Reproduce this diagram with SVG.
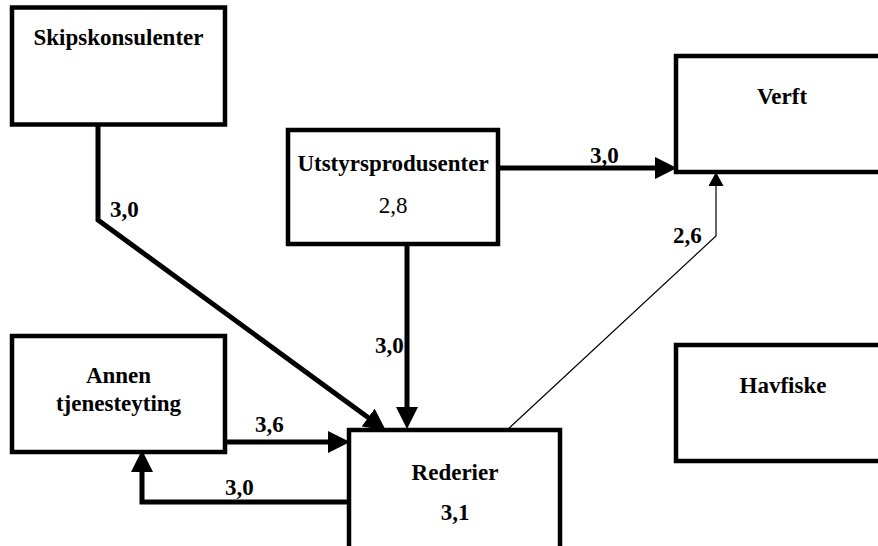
<svg xmlns="http://www.w3.org/2000/svg" width="878" height="546" viewBox="0 0 878 546">
<style>
.box{fill:#fff;stroke:#000;stroke-width:4.5}
text{font-family:'Liberation Serif','Times New Roman','DejaVu Serif',serif;font-size:23px;fill:#000}
.t{font-weight:bold}
.c{text-anchor:middle}
.thick{fill:none;stroke:#000;stroke-width:5}
.thin{fill:none;stroke:#000;stroke-width:1.2}
</style>
<defs>
<marker id="ah" markerUnits="userSpaceOnUse" markerWidth="22" markerHeight="22" viewBox="0 0 20 20" refX="10" refY="10" orient="auto">
<path d="M0,0 L20,10 L0,20 z" fill="#000"/>
</marker>
<marker id="ahs" markerUnits="userSpaceOnUse" markerWidth="15" markerHeight="15" viewBox="0 0 14 15" refX="14" refY="7.5" orient="auto">
<path d="M0,0 L14,7.5 L0,15 z" fill="#000"/>
</marker>
</defs>
<rect width="878" height="546" fill="#fff"/>
<g id="connectors">
<path class="thick" d="M98,125 L98,220 L377,424" marker-end="url(#ah)"/>
<path class="thick" d="M407,245 L407,418" marker-end="url(#ah)"/>
<path class="thick" d="M498,168 L666,168" marker-end="url(#ah)"/>
<path class="thick" d="M225,442 L339,442" marker-end="url(#ah)"/>
<path class="thick" d="M350,502 L142,502 L142,461" marker-end="url(#ah)"/>
<path class="thin" d="M507,430 L716,236 L716,172" marker-end="url(#ahs)"/>
<text class="t" x="110" y="217">3,0</text>
<text class="t" x="590" y="163">3,0</text>
<text class="t" x="673" y="243">2,6</text>
<text class="t" x="375" y="353">3,0</text>
<text class="t" x="255" y="432">3,6</text>
<text class="t" x="225" y="495">3,0</text>
</g>
<g id="skipskonsulenter">
<rect class="box" x="12" y="7.5" width="213" height="117"/>
<text class="t c" x="118.5" y="45">Skipskonsulenter</text>
</g>
<g id="utstyrsprodusenter">
<rect class="box" x="288" y="130" width="210" height="114"/>
<text class="t c" x="393" y="171">Utstyrsprodusenter</text>
<text class="c" x="393" y="213">2,8</text>
</g>
<g id="verft">
<rect class="box" x="676" y="56" width="214" height="116"/>
<text class="t c" x="782" y="104">Verft</text>
</g>
<g id="annen">
<rect class="box" x="12" y="336" width="213" height="116"/>
<text class="t c" x="118.5" y="383">Annen</text>
<text class="t c" x="118.5" y="411">tjenesteyting</text>
</g>
<g id="havfiske">
<rect class="box" x="676" y="345" width="214" height="116"/>
<text class="t c" x="783" y="393">Havfiske</text>
</g>
<g id="rederier">
<rect class="box" x="349" y="430" width="211" height="130"/>
<text class="t c" x="455" y="480">Rederier</text>
<text class="t c" x="455" y="520">3,1</text>
</g>
</svg>
